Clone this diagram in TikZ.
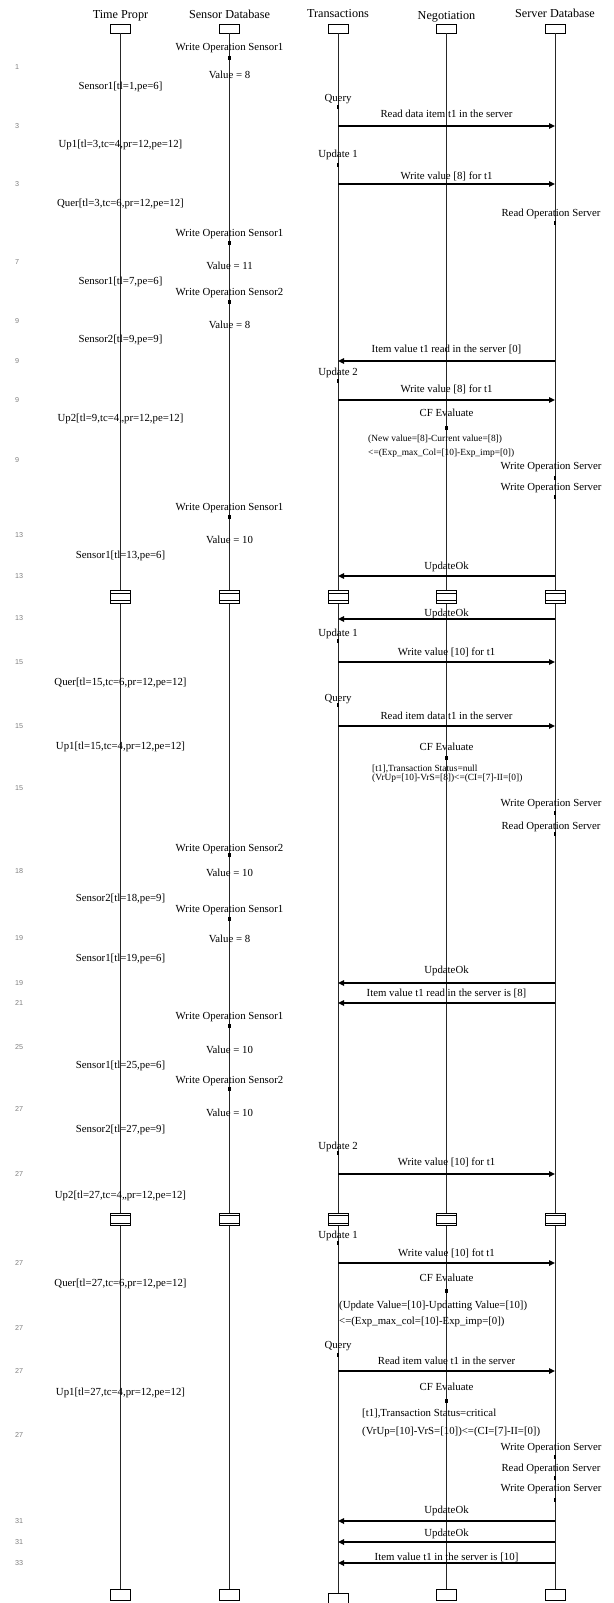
\documentclass[tikz,border=0pt]{standalone}
\usepackage{fontspec}
\setmainfont{Liberation Serif}
\newfontfamily\numfont{Liberation Sans}
\usetikzlibrary{arrows.meta}
\newcommand\msgR[4]{%
  \coordinate (#1a) at (338,#2);
  \coordinate (#1b) at (555,#2);
  \draw[msg] (#1a) -- (#1b);
  \node[lbl] (#1t) at (446.5,#3) {#4};}
\newcommand\msgL[4]{%
  \coordinate (#1a) at (555,#2);
  \coordinate (#1b) at (338,#2);
  \draw[msg] (#1a) -- (#1b);
  \node[lbl] (#1t) at (446.5,#3) {#4};}
\begin{document}
\begin{tikzpicture}[x=1bp,y=-1bp,
  hdr/.style={font=\fontsize{12.2bp}{14bp}\selectfont,inner sep=0,anchor=base,yshift=-4bp},
  lbl/.style={font=\fontsize{10.8bp}{13bp}\selectfont,inner sep=0,anchor=base,yshift=-3.5bp},
  lblw/.style={lbl,anchor=base west},
  sml/.style={font=\fontsize{9.4bp}{11bp}\selectfont,inner sep=0,anchor=base west,yshift=-3.1bp},
  num/.style={font=\numfont\fontsize{7.2bp}{8bp}\selectfont,text=black!50,inner sep=0,anchor=base west,yshift=-2.5bp},
  headbox/.style={draw,fill=white,line width=0.6bp,minimum width=20bp,minimum height=9bp,inner sep=0},
  footbox/.style={headbox,minimum height=11bp},
  dblbox/.style={headbox,minimum height=12.5bp,line width=0.8bp,
    path picture={
      \draw[line width=0.7bp] ([yshift=-2.5bp]path picture bounding box.north west) -- ([yshift=-2.5bp]path picture bounding box.north east);
      \draw[line width=0.7bp] ([yshift=2.5bp]path picture bounding box.south west) -- ([yshift=2.5bp]path picture bounding box.south east);}},
  tick/.style={fill=black,minimum width=2.5bp,minimum height=4bp,inner sep=0},
  life/.style={line width=0.7bp,black!85},
  msg/.style={line width=1.6bp,-{Triangle[length=6bp,width=5.5bp]}}]
\useasboundingbox (0,0) rectangle (614,1603);

% headers
\node[hdr] (tpH) at (120.5,15) {Time Propr};
\node[hdr] (sdH) at (229.5,15) {Sensor Database};
\node[hdr] (trH) at (338,14) {Transactions};
\node[hdr] (ngH) at (446.5,16) {Negotiation};
\node[hdr] (svH) at (555,14) {Server Database};

% boxes
\foreach \n/\x in {tp/120.5,sd/229.5,tr/338,ng/446.5,sv/555}{
  \node[headbox] (\n0) at (\x,28.5) {};
  \node[dblbox] (\n5) at (\x,597) {};
  \node[dblbox] (\n7) at (\x,1219.5) {};
}
\foreach \n/\x in {tp/120.5,sd/229.5,ng/446.5,sv/555}{
  \node[footbox] (\n9) at (\x,1595) {};
}
\node[footbox] (tr9) at (338,1598.5) {};

% lifelines
\foreach \n in {tp,sd,tr,ng,sv}{
  \draw[life] (\n0.south) -- (\n5.north);
  \draw[life] (\n5.south) -- (\n7.north);
  \draw[life] (\n7.south) -- (\n9.north);
}

% left numbers
\foreach \y/\t [count=\i] in {67/1,126/3,184/3,262/7,321/9,361/9,400/9,460/9,535/13,576/13,618/13,662/15,726/15,788/15,871/18,938/19,983/19,1003/21,1047/25,1109/27,1174/27,1263/27,1328/27,1371/27,1435/27,1521/31,1542/31,1563/33}
  \node[num] (n\i) at (15,\y) {\t};

% Time Propr labels
\foreach \y/\t [count=\i] in {86/{Sensor1[tl=1,pe=6]},144/{Up1[tl=3,tc=4,pr=12,pe=12]},203/{Quer[tl=3,tc=6,pr=12,pe=12]},281/{Sensor1[tl=7,pe=6]},339/{Sensor2[tl=9,pe=9]},418/{Up2[tl=9,tc=4,,pr=12,pe=12]},555/{Sensor1[tl=13,pe=6]},682/{Quer[tl=15,tc=6,pr=12,pe=12]},746/{Up1[tl=15,tc=4,pr=12,pe=12]},898/{Sensor2[tl=18,pe=9]},958/{Sensor1[tl=19,pe=6]},1065/{Sensor1[tl=25,pe=6]},1129/{Sensor2[tl=27,pe=9]},1195/{Up2[tl=27,tc=4,,pr=12,pe=12]},1283/{Quer[tl=27,tc=6,pr=12,pe=12]},1392/{Up1[tl=27,tc=4,pr=12,pe=12]}}
  \node[lbl] (p\i) at (120.5,\y) {\t};

% Sensor Database operations
\foreach \w/\k/\v/\s/\val [count=\i] in {47/58/75/1/8,233/243/266/1/11,292/302/325/2/8,507/517/540/1/10,848/855/873/2/10,909/919/939/1/8,1016/1026/1050/1/10,1080/1089/1113/2/10}{
  \node[lbl] (sw\i) at (229.5,\w) {Write Operation Sensor\s};
  \node[tick] (sk\i) at (229.5,\k) {};
  \node[lbl] (sv\i) at (229.5,\v) {Value = \val};
}

% Transactions labels
\foreach \y/\k/\t [count=\i] in {98/107/Query,154/165/Update 1,372/381/Update 2,633/641/Update 1,698/705/Query,1146/1153/Update 2,1235/1243/Update 1,1345/1355/Query}{
  \node[lbl] (tl\i) at (338,\y) {\t};
  \node[tick] (tk\i) at (338,\k) {};
}

% Server operations
\foreach \y/\k/\t [count=\i] in {213/223/Read,466/478/Write,487/497/Write,803/813/Write,826/834/Read,1447/1457/Write,1468/1478/Read,1488/1500/Write}{
  \node[lbl] (ol\i) at (551,\y) {\t{} Operation Server};
  \node[tick] (ok\i) at (555,\k) {};
}

% Negotiation
\node[lbl] (cf1) at (446.5,413) {CF Evaluate};
\node[tick] (ck1) at (446.5,428) {};
\node[sml] (c1a) at (368,438) {(New value=[8]-Current value=[8])};
\node[sml] (c1b) at (368,452) {<=(Exp\_max\_Col=[10]-Exp\_imp=[0])};
\node[lbl] (cf2) at (446.5,747) {CF Evaluate};
\node[tick] (ck2) at (446.5,758) {};
\node[sml] (c2a) at (372,768) {[t1],Transaction Status=null};
\node[sml] (c2b) at (372,777.5) {(VrUp=[10]-VrS=[8])<=(CI=[7]-II=[0])};
\node[lbl] (cf3) at (446.5,1278) {CF Evaluate};
\node[tick] (ck3) at (446.5,1291) {};
\node[lblw] (c3a) at (339,1305) {(Update Value=[10]-Updatting Value=[10])};
\node[lblw] (c3b) at (339,1321) {<=(Exp\_max\_col=[10]-Exp\_imp=[0])};
\node[lbl] (cf4) at (446.5,1387) {CF Evaluate};
\node[tick] (ck4) at (446.5,1401) {};
\node[lblw] (c4a) at (362,1413) {[t1],Transaction Status=critical};
\node[lblw] (c4b) at (362,1431) {(VrUp=[10]-VrS=[10])<=(CI=[7]-II=[0])};

% messages
\msgR{m1}{126}{114}{Read data item t1 in the server}
\msgR{m2}{184}{176}{Write value [8] for t1}
\msgL{m3}{361}{349}{Item value t1 read in the server [0]}
\msgR{m4}{400}{389}{Write value [8] for t1}
\msgL{m5}{576}{566}{UpdateOk}
\msgL{m6}{619}{613}{UpdateOk}
\msgR{m7}{662}{652}{Write value [10] for t1}
\msgR{m8}{726}{716}{Read item data t1 in the server}
\msgL{m9}{983}{970}{UpdateOk}
\msgL{m10}{1003}{993}{Item value t1 read in the server is [8]}
\msgR{m11}{1174}{1162}{Write value [10] for t1}
\msgR{m12}{1263}{1253}{Write value [10] fot t1}
\msgR{m13}{1371}{1361}{Read item value t1 in the server}
\msgL{m14}{1521}{1510}{UpdateOk}
\msgL{m15}{1542}{1533}{UpdateOk}
\msgL{m16}{1563}{1557}{Item value t1 in the server is [10]}
\end{tikzpicture}
\end{document}
